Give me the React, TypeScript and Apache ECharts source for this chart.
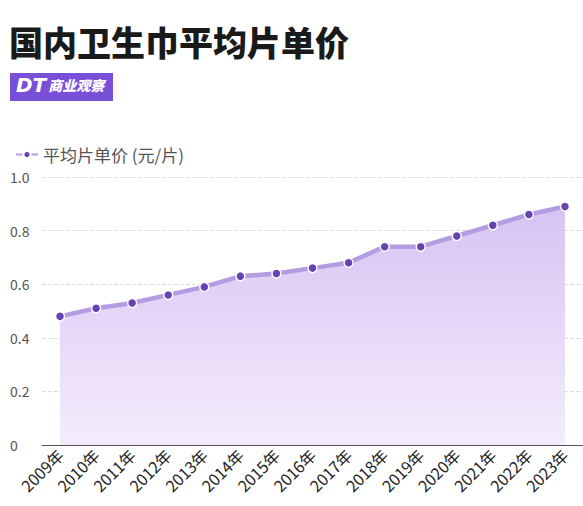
import React, { useEffect, useRef } from "react";
import * as echarts from "echarts";

const years = ["2009年","2010年","2011年","2012年","2013年","2014年","2015年","2016年","2017年","2018年","2019年","2020年","2021年","2022年","2023年"];
const prices = [0.48, 0.51, 0.53, 0.56, 0.59, 0.63, 0.64, 0.66, 0.68, 0.74, 0.74, 0.78, 0.82, 0.86, 0.89];
const seriesName = "平均片单价 (元/片)";
const titleText = "国内卫生巾平均片单价";
const logoMark = "DT";
const logoName = "商业观察";

export default function App() {
  const ref = useRef<HTMLDivElement>(null);
  useEffect(() => {
    document.body.style.margin = "0";
    const chart = echarts.init(ref.current!, null, { renderer: "svg" });
    const font = "'Noto Sans CJK SC', 'Noto Sans', sans-serif";
    chart.setOption({
      animation: false,
      backgroundColor: "#ffffff",
      textStyle: { fontFamily: font },
      graphic: [
        {
          type: "text",
          left: 9,
          top: 24,
          style: { text: titleText, font: `900 34px ${font}`, fill: "#1a1a1a" },
        },
        {
          type: "rect",
          shape: { x: 10, y: 73, width: 103, height: 28 },
          style: { fill: "#7a4fd8" },
        },
        {
          type: "text",
          left: 16,
          top: 75,
          style: {
            text: `{a|${logoMark}}{b|${logoName}}`,
            rich: {
              a: { font: `italic 900 20px 'DejaVu Sans', sans-serif`, fill: "#ffffff", padding: [0, 2, 0, 0] },
              b: { font: `italic 900 14px ${font}`, fill: "#ffffff" },
            },
          },
        },
      ],
      legend: {
        left: 10,
        top: 141,
        itemWidth: 22,
        itemHeight: 9,
        itemGap: 10,
        textStyle: { fontSize: 17, color: "#555", fontFamily: font },
        data: [seriesName],
      },
      grid: { left: 42, right: 0, top: 177, bottom: 61 },
      xAxis: {
        type: "category",
        data: years,
        boundaryGap: true,
        axisLine: { show: true, lineStyle: { color: "#555", width: 1.2 } },
        axisTick: { show: false },
        axisLabel: { rotate: 45, fontSize: 16, color: "#222", margin: 7, interval: 0, fontFamily: font },
      },
      yAxis: {
        type: "value",
        min: 0,
        max: 1,
        interval: 0.2,
        axisLine: { show: false },
        axisTick: { show: false },
        axisLabel: {
          fontSize: 14,
          color: "#555",
          align: "left",
          margin: 32,
          fontFamily: font,
          formatter: (v: number) => (v === 0 ? "0" : v.toFixed(1)),
        },
        splitLine: { lineStyle: { color: "#dcdcdc", type: "dashed" } },
      },
      series: [
        {
          name: seriesName,
          type: "line",
          data: prices,
          symbol: "circle",
          symbolSize: 9,
          lineStyle: { color: "#b49be2", width: 4.5 },
          itemStyle: { color: "#6a41b2", borderColor: "#ffffff", borderWidth: 1.5 },
          areaStyle: {
            color: new echarts.graphic.LinearGradient(0, 0, 0, 1, [
              { offset: 0, color: "#d6c4f3" },
              { offset: 1, color: "#f4ecfc" },
            ]),
            opacity: 1,
          },
        },
      ],
    });
    return () => chart.dispose();
  }, []);
  return <div ref={ref} style={{ width: 583, height: 506, position: "absolute", left: 0, top: 0 }} />;
}
